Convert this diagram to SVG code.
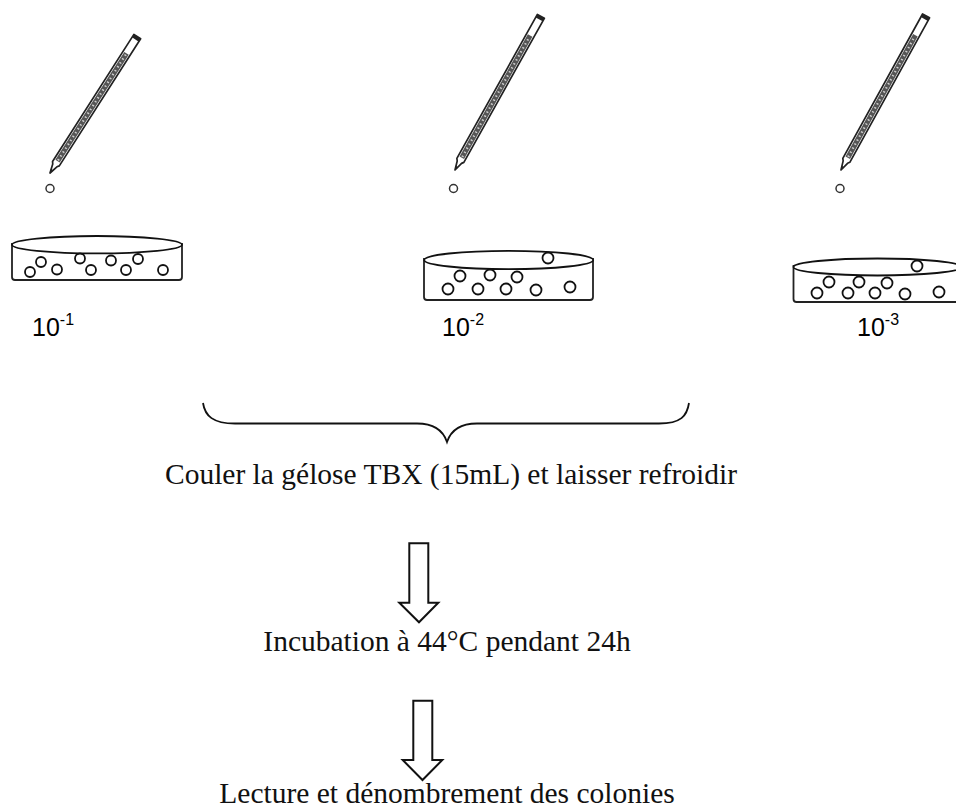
<svg xmlns="http://www.w3.org/2000/svg" width="956" height="810" viewBox="0 0 956 810">
<defs>
<style>
.pip-outline{fill:#fff;stroke:#222;stroke-width:1.7;stroke-linejoin:round}
.pip-band{fill:#555}
.pip-ticks{stroke:#d0d0d0;stroke-width:2.2;stroke-dasharray:1.4 3.2;fill:none}
.pip-cap{fill:#222}
.drop{fill:none;stroke:#333;stroke-width:1.5}
.dish{fill:#fff;stroke:#222;stroke-width:1.8;stroke-linejoin:round}
.lid{fill:#fff;stroke:#111;stroke-width:1.8}
.col{fill:#fff;stroke:#111;stroke-width:1.8}
.lbl{font-family:"Liberation Sans",Arial,sans-serif;font-size:25px;fill:#000}
.sup{font-size:16px}
.txt{font-family:"Liberation Serif","Times New Roman",serif;font-size:29.5px;fill:#111;text-anchor:middle}
.conn{fill:#fff;stroke:#111;stroke-width:2;stroke-linejoin:miter}
.brace{fill:none;stroke:#111;stroke-width:1.8}
</style>
</defs>
<rect width="956" height="810" fill="#fff"/>

<g id="pipette1" transform="translate(50,173) rotate(-57.4)">
<path class="pip-outline" d="M0,0 L9,-2.5 L11,-4 L162,-4 L162,4 L11,4 L9,2.5 Z"/>
<rect class="pip-band" x="14" y="-2.6" width="128" height="5.2"/>
<line class="pip-ticks" x1="15" y1="0" x2="141" y2="0"/>
<rect class="pip-cap" x="158.5" y="-4" width="3.5" height="8"/>
<path d="M0,0 L4,-1.5 L4,1.5 Z" fill="#222"/>
</g>
<g id="drop1"><circle class="drop" cx="50" cy="188.5" r="4"/></g>

<g id="pipette2" transform="translate(455,170) rotate(-60.8)">
<path class="pip-outline" d="M0,0 L9,-2.5 L11,-4 L176,-4 L176,4 L11,4 L9,2.5 Z"/>
<rect class="pip-band" x="14" y="-2.6" width="140" height="5.2"/>
<line class="pip-ticks" x1="15" y1="0" x2="153" y2="0"/>
<rect class="pip-cap" x="172.5" y="-4" width="3.5" height="8"/>
<path d="M0,0 L4,-1.5 L4,1.5 Z" fill="#222"/>
</g>
<g id="drop2"><circle class="drop" cx="453.5" cy="188.5" r="4"/></g>

<g id="pipette3" transform="translate(841,170) rotate(-61.1)">
<path class="pip-outline" d="M0,0 L9,-2.5 L11,-4 L176,-4 L176,4 L11,4 L9,2.5 Z"/>
<rect class="pip-band" x="14" y="-2.6" width="140" height="5.2"/>
<line class="pip-ticks" x1="15" y1="0" x2="153" y2="0"/>
<rect class="pip-cap" x="172.5" y="-4" width="3.5" height="8"/>
<path d="M0,0 L4,-1.5 L4,1.5 Z" fill="#222"/>
</g>
<g id="drop3"><circle class="drop" cx="840" cy="188.5" r="4"/></g>

<g id="dish1">
<path class="dish" d="M12,243 L12,277 Q12,280 15,280 L179,280 Q182,280 182,277 L182,243"/>
<ellipse class="lid" cx="97" cy="244.7" rx="85" ry="8.7"/>
<circle class="col" cx="30" cy="272" r="5"/>
<circle class="col" cx="41" cy="262" r="5"/>
<circle class="col" cx="57" cy="269.5" r="5"/>
<circle class="col" cx="80" cy="258.5" r="5"/>
<circle class="col" cx="91" cy="270" r="5"/>
<circle class="col" cx="111" cy="260.5" r="5"/>
<circle class="col" cx="126" cy="270" r="5"/>
<circle class="col" cx="138" cy="259" r="5"/>
<circle class="col" cx="163" cy="270" r="5"/>
</g>

<g id="dish2">
<path class="dish" d="M424,258 L424,297 Q424,300 427,300 L590,300 Q593,300 593,297 L593,258"/>
<ellipse class="lid" cx="508.7" cy="260" rx="84.5" ry="9.2"/>
<circle class="col" cx="548" cy="258" r="5.5"/>
<circle class="col" cx="460" cy="276" r="5.5"/>
<circle class="col" cx="490" cy="275" r="5.5"/>
<circle class="col" cx="517" cy="277" r="5.5"/>
<circle class="col" cx="448" cy="289" r="5.5"/>
<circle class="col" cx="478" cy="289" r="5.5"/>
<circle class="col" cx="506" cy="289" r="5.5"/>
<circle class="col" cx="536" cy="290" r="5.5"/>
<circle class="col" cx="570" cy="287" r="5.5"/>
</g>

<g id="dish3">
<path class="dish" d="M793.5,265 L793.5,299 Q793.5,302 796.5,302 L962,302 L962,265"/>
<ellipse class="lid" cx="877.5" cy="267" rx="84" ry="8.5"/>
<circle class="col" cx="917" cy="266" r="5.5"/>
<circle class="col" cx="829" cy="282" r="5.5"/>
<circle class="col" cx="859" cy="282" r="5.5"/>
<circle class="col" cx="887" cy="283" r="5.5"/>
<circle class="col" cx="817" cy="293" r="5.5"/>
<circle class="col" cx="848" cy="293" r="5.5"/>
<circle class="col" cx="875" cy="293" r="5.5"/>
<circle class="col" cx="905" cy="294" r="5.5"/>
<circle class="col" cx="939" cy="292" r="5.5"/>
</g>

<g id="label1"><text class="lbl" x="32" y="336">10<tspan class="sup" dy="-11">-1</tspan></text></g>
<g id="label2"><text class="lbl" x="442" y="336">10<tspan class="sup" dy="-11">-2</tspan></text></g>
<g id="label3"><text class="lbl" x="857" y="336">10<tspan class="sup" dy="-11">-3</tspan></text></g>

<g id="step1"><text class="txt" x="451" y="484">Couler la gélose TBX (15mL) et laisser refroidir</text></g>
<g id="step2"><text class="txt" x="447" y="651">Incubation à 44°C pendant 24h</text></g>
<g id="step3"><text class="txt" x="447" y="803">Lecture et dénombrement des colonies</text></g>

<g id="connectors">
<path class="brace" d="M203,403 C205,416 213,423.5 235,423.5 L417,423.5 C433,423.5 443,430 447,442 C451,430 461,423.5 477,423.5 L659,423.5 C681,423.5 687,416 689,403"/>
<path class="conn" d="M409.3,543.3 L428.3,543.3 L428.3,602.7 L438.3,602.7 L419,622.3 L399.3,602.7 L409.3,602.7 Z"/>
<path class="conn" d="M413.3,700.7 L432.3,700.7 L432.3,760 L442.3,760 L422.5,780 L402.7,760 L413.3,760 Z"/>
</g>
</svg>
